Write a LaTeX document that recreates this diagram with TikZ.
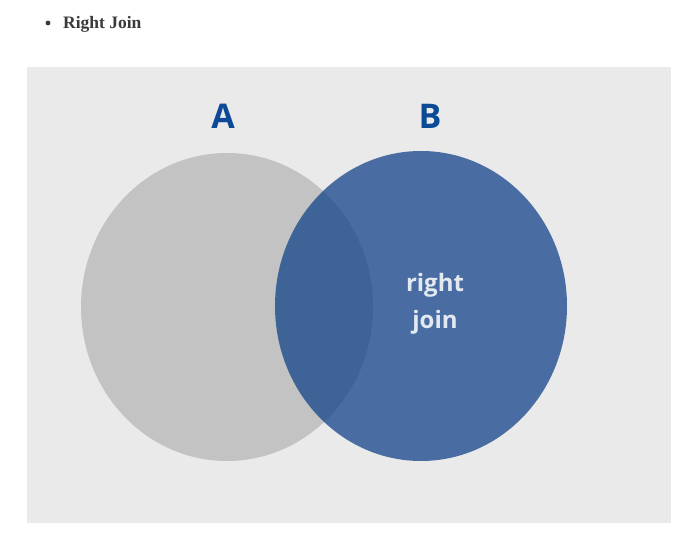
\documentclass[tikz,border=0pt]{standalone}
\usepackage{fontspec}
\setmainfont{Liberation Serif}
\newfontfamily\labelfont{Open Sans}
\usetikzlibrary{shapes.geometric}
\definecolor{panelgray}{HTML}{EAEAEA}
\definecolor{setagray}{HTML}{C3C3C3}
\definecolor{setbblue}{RGB}{12,62,135}
\definecolor{titleblue}{HTML}{0D4A96}
\definecolor{bodytext}{HTML}{3A3A3A}
\tikzset{
  setnode/.style={ellipse, inner sep=0pt, minimum width=292pt, minimum height=308pt},
  setname/.style={font=\labelfont\fontsize{34}{34}\selectfont\bfseries, text=titleblue},
}
\begin{document}
\begin{tikzpicture}[x=1pt, y=-1pt]
\useasboundingbox[fill=white] (0,0) rectangle (689,537);
\fill[panelgray] (27,67) rectangle (671,523);
% bullet item
\fill[bodytext] (48,23) circle (2.4pt);
\node[anchor=base west, inner sep=0pt, text=bodytext, font=\fontsize{17.5}{17.5}\selectfont\bfseries] (title) at (63,29) {Right Join};
% the two sets
\node[setnode, fill=setagray] (seta) at (227,307) {};
\node[setnode, fill=setbblue, fill opacity=0.72, minimum height=310pt] (setb) at (421,306) {};
\node[setname] (namea) at (223,116) {A};
\node[setname] (nameb) at (430,116) {B};
\node[align=center, text=white, text opacity=0.85, font=\labelfont\fontsize{24}{37}\selectfont\bfseries] (label) at (435,304) {right\\join};
\end{tikzpicture}
\end{document}
